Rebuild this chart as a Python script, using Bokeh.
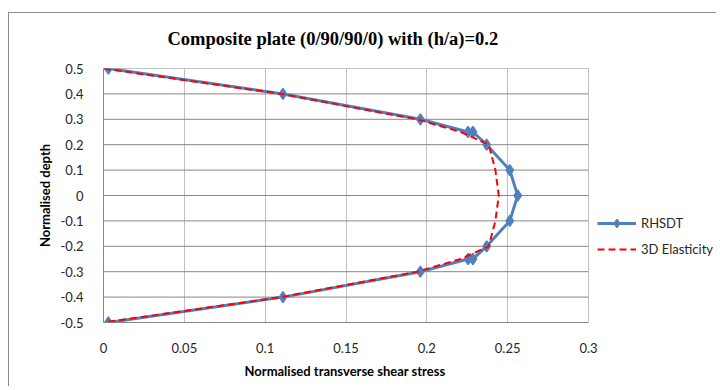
import math
from bokeh.plotting import figure
from bokeh.models import Legend, LegendItem, FixedTicker, Range1d, Title
from bokeh.embed import file_html
from bokeh.resources import INLINE

# ---- data ----
title_text = "Composite plate (0/90/90/0) with (h/a)=0.2"
x_label = "Normalised transverse shear stress"
y_label = "Normalised depth"

rhsdt_depth = [0.5, 0.4, 0.3, 0.25, 0.25, 0.2, 0.1, 0.0, -0.1, -0.2, -0.25, -0.25, -0.3, -0.4, -0.5]
rhsdt_stress = [0.003, 0.111, 0.196, 0.2255, 0.2285, 0.237, 0.2513, 0.2562, 0.2513, 0.237, 0.2285, 0.2255, 0.196, 0.111, 0.003]

elast_depth = [0.5, 0.4, 0.3, 0.25, 0.2, 0.1, 0.0, -0.1, -0.2, -0.25, -0.3, -0.4, -0.5]
elast_stress = [0.0, 0.110, 0.194, 0.221, 0.2383, 0.2424, 0.2445, 0.2424, 0.2383, 0.221, 0.194, 0.110, 0.0]

x_ticks = [0.0, 0.05, 0.1, 0.15, 0.2, 0.25, 0.3]
x_tick_labels = ["0", "0.05", "0.1", "0.15", "0.2", "0.25", "0.3"]
y_ticks = [0.5, 0.4, 0.3, 0.2, 0.1, 0.0, -0.1, -0.2, -0.3, -0.4, -0.5]
y_tick_labels = ["0.5", "0.4", "0.3", "0.2", "0.1", "0", "-0.1", "-0.2", "-0.3", "-0.4", "-0.5"]

series_names = ["RHSDT", "3D Elasticity"]

# ---- layout: plot area spans 485 px for the 0..0.3 axis; the frame is widened
# to the right so the legend (drawn inside the frame) is not clipped ----
FRAME_W_AXIS = 485
FRAME_W_TOTAL = 614
x_min, x_max = x_ticks[0], x_ticks[-1]
x_end = x_min + (x_max - x_min) * FRAME_W_TOTAL / FRAME_W_AXIS

p = figure(width=708, height=374, output_backend="svg", toolbar_location=None,
           x_range=Range1d(x_min, x_end), y_range=Range1d(y_ticks[-1], y_ticks[0]),
           min_border_left=94, min_border_right=0, min_border_top=55, min_border_bottom=65)
p.styles = {"border-left": "1px solid #8c8c8c", "border-top": "1px solid #8c8c8c",
            "margin-top": "12px", "margin-left": "8px"}
p.outline_line_color = None
p.background_fill_color = "white"
p.border_fill_color = "white"

# the trailing empty line lifts the title away from the plot area
p.title.text = title_text + "\n"
p.title.text_font = "Liberation Serif"
p.title.text_font_style = "bold"
p.title.text_font_size = "18.5px"
p.title.text_color = "black"
p.title.align = "left"
p.title.offset = 64
p.title.vertical_align = "bottom"
p.title.standoff = 0

# axes
for ax in (p.xaxis[0], p.yaxis[0]):
    ax.axis_line_color = "#868686"
    ax.major_tick_line_color = None
    ax.minor_tick_line_color = None
    ax.major_label_text_font = "Lato"
    ax.major_label_text_font_size = "13px"
    ax.major_label_text_color = "#262626"
    ax.axis_label_text_font = "Lato"
    ax.axis_label_text_font_style = "bold"
    ax.axis_label_text_font_size = "13px"
    ax.axis_label_text_color = "black"
    ax.axis_label_standoff = 5
    ax.major_label_standoff = 14

p.xaxis.bounds = (x_min, x_max)
p.xaxis.ticker = FixedTicker(ticks=x_ticks)
p.xaxis.major_label_overrides = dict(zip(x_ticks, x_tick_labels))
p.yaxis.ticker = FixedTicker(ticks=y_ticks)
p.yaxis.major_label_overrides = dict(zip(y_ticks, y_tick_labels))
p.yaxis.axis_label = y_label

# x-axis title placed under the 0..0.3 plot area
xt = Title(text=x_label, align="left", offset=141, standoff=10,
           text_font="Lato", text_font_style="bold", text_font_size="13px", text_color="black")
p.add_layout(xt, "below")

# grid: vertical lines via the grid, horizontal lines limited to the 0..0.3 plot area
p.xgrid.ticker = FixedTicker(ticks=x_ticks)
p.xgrid.grid_line_color = "#c0c0c0"
p.ygrid.grid_line_color = None
p.segment(x0=[x_min] * len(y_ticks), x1=[x_max] * len(y_ticks), y0=y_ticks, y1=y_ticks,
          line_color="#878787", line_width=1)

# series
blue = "#4F81BD"
l1 = p.line(rhsdt_stress, rhsdt_depth, line_color=blue, line_width=3)
m1 = p.scatter(rhsdt_stress, rhsdt_depth, marker="diamond", size=11,
               fill_color=blue, line_color=blue, line_width=1.5)
l2 = p.line(elast_stress, elast_depth, line_color="#FF0000", line_width=2, line_dash="7 4")

legend = Legend(items=[LegendItem(label=series_names[0], renderers=[l1, m1]),
                       LegendItem(label=series_names[1], renderers=[l2])],
                location=(494, 63), padding=0, margin=0, spacing=6,
                glyph_width=39, glyph_height=20, label_height=20, label_standoff=5,
                border_line_color=None, background_fill_alpha=0)
legend.label_text_font = "Lato"
legend.label_text_font_size = "13px"
legend.label_text_color = "#262626"
p.add_layout(legend)

open("out.html", "w").write(file_html(p, INLINE))
